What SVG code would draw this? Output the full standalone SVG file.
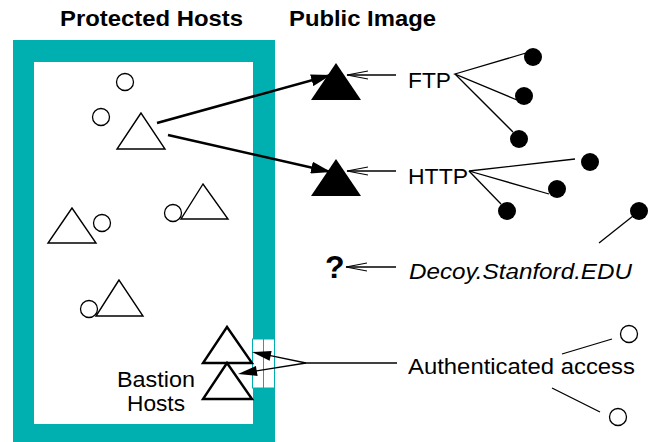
<svg xmlns="http://www.w3.org/2000/svg" width="650" height="442" viewBox="0 0 650 442">
<style>
text{font-family:"Liberation Sans",Arial,Helvetica,sans-serif;fill:#000}
.hdr{font-size:22px;font-weight:bold}
.lbl{font-size:22px}
.ot{fill:#fff;stroke:#000;stroke-width:1.4}
.bt{fill:#fff;stroke:#000;stroke-width:2.4}
.oc{fill:#fff;stroke:#000;stroke-width:1.3}
.fc{fill:#000}
.ft{fill:#000}
.thin{stroke:#000;stroke-width:1.3;fill:none}
.thick{stroke:#000;stroke-width:2.6;fill:none}
.head{fill:#000;stroke:none}
.gap{fill:#fff;stroke:#00AFAF;stroke-width:1}
</style>
<defs>
<marker id="fh" markerUnits="userSpaceOnUse" viewBox="0 0 20 12" refX="20" refY="6" markerWidth="20" markerHeight="12" orient="auto"><path d="M0,0 L20,6 L0,12 z" fill="#000"/></marker>
<marker id="oh" markerUnits="userSpaceOnUse" viewBox="0 0 22 10" refX="21" refY="5" markerWidth="22" markerHeight="10" orient="auto"><path d="M0,1 L21,5 L0,9" fill="none" stroke="#000" stroke-width="1.2"/></marker>
</defs>
<rect width="650" height="442" fill="#fff"/>
<text class="hdr" x="60" y="26" textLength="183" lengthAdjust="spacingAndGlyphs">Protected Hosts</text>
<text class="hdr" x="289" y="26" textLength="147" lengthAdjust="spacingAndGlyphs">Public Image</text>
<g id="firewall">
<path fill="#00B0B0" fill-rule="evenodd" d="M13,40 H275 V442 H13 Z M34,62 V424 H253 V62 Z"/>
<rect class="gap" x="252.5" y="339" width="22" height="49"/>
<line x1="263.5" y1="339" x2="263.5" y2="388" stroke="#00AFAF" stroke-width="1"/>
</g>
<g id="protected-hosts">
<circle class="oc" cx="125" cy="82" r="8.5"/>
<circle class="oc" cx="101" cy="117" r="8.5"/>
<polygon class="ot" points="141,113 117,149 165,149"/>
<circle class="oc" cx="173" cy="213" r="8.5"/>
<polygon class="ot" points="203,184 181,219 228,219"/>
<polygon class="ot" points="72,208 48,243 96,243"/>
<circle class="oc" cx="102" cy="223" r="8.5"/>
<circle class="oc" cx="89" cy="309" r="8.5"/>
<polygon class="ot" points="119,280 96,316 143,316"/>
</g>
<g id="bastion-hosts">
<polygon class="bt" points="227,327 203,363 252,363"/>
<polygon class="bt" points="227,363 203,399 252,399"/>
<text class="lbl" x="156" y="387" text-anchor="middle" textLength="78" lengthAdjust="spacingAndGlyphs">Bastion</text>
<text class="lbl" x="156" y="411" text-anchor="middle" textLength="58" lengthAdjust="spacingAndGlyphs">Hosts</text>
</g>
<g id="public-ftp">
<polygon class="ft" points="336,63 311,100 361,100"/>
</g>
<g id="public-http">
<polygon class="ft" points="336,159 311,196 361,196"/>
</g>
<g id="decoy-unknown">
<text x="325" y="278" style="font-size:32px;font-weight:bold">?</text>
</g>
<g id="label-ftp"><text class="lbl" x="408" y="88" textLength="43" lengthAdjust="spacingAndGlyphs">FTP</text></g>
<g id="label-http"><text class="lbl" x="408" y="184" textLength="60" lengthAdjust="spacingAndGlyphs">HTTP</text></g>
<g id="label-decoy"><text class="lbl" x="409" y="279" font-style="italic" textLength="223" lengthAdjust="spacingAndGlyphs">Decoy.Stanford.EDU</text></g>
<g id="label-auth"><text class="lbl" x="408" y="374" textLength="227" lengthAdjust="spacingAndGlyphs">Authenticated access</text></g>
<g id="clients">
<circle class="fc" cx="533" cy="57" r="9"/>
<circle class="fc" cx="524" cy="96" r="9"/>
<circle class="fc" cx="519" cy="139" r="9"/>
<circle class="fc" cx="590" cy="162" r="9"/>
<circle class="fc" cx="557" cy="189" r="9"/>
<circle class="fc" cx="507" cy="211" r="9"/>
<circle class="fc" cx="639" cy="211" r="9"/>
<circle class="oc" cx="629" cy="334" r="8.5"/>
<circle class="oc" cx="618" cy="417" r="8.5"/>
</g>
<g id="connectors">
<line class="thick" x1="157" y1="123" x2="331" y2="75" marker-end="url(#fh)"/>
<line class="thick" x1="168" y1="135" x2="331" y2="172" marker-end="url(#fh)"/>
<line class="thin" x1="396" y1="75" x2="347" y2="75" marker-end="url(#oh)"/>
<line class="thin" x1="396" y1="171" x2="347" y2="171" marker-end="url(#oh)"/>
<line class="thin" x1="396" y1="267" x2="346" y2="267" marker-end="url(#oh)"/>
<polyline class="thin" points="526,53 455,74 517,100"/>
<line class="thin" x1="455" y1="74" x2="513" y2="132"/>
<polyline class="thin" points="575,159 469,171 549,194"/>
<line class="thin" x1="469" y1="171" x2="501" y2="204"/>
<line class="thin" x1="599" y1="243" x2="633" y2="216"/>
<line class="thin" x1="397" y1="363" x2="306" y2="363"/>
<line class="thin" x1="306" y1="363" x2="268" y2="355.2"/>
<polygon class="head" points="252,352 271.6,350.9 269.6,360.7"/>
<line class="thin" x1="306" y1="363" x2="255" y2="371.2"/>
<polygon class="head" points="238,374 255.9,366 257.6,375.9"/>
<line class="thin" x1="562" y1="354" x2="612" y2="339"/>
<line class="thin" x1="552" y1="388" x2="600" y2="412"/>
</g>
</svg>
